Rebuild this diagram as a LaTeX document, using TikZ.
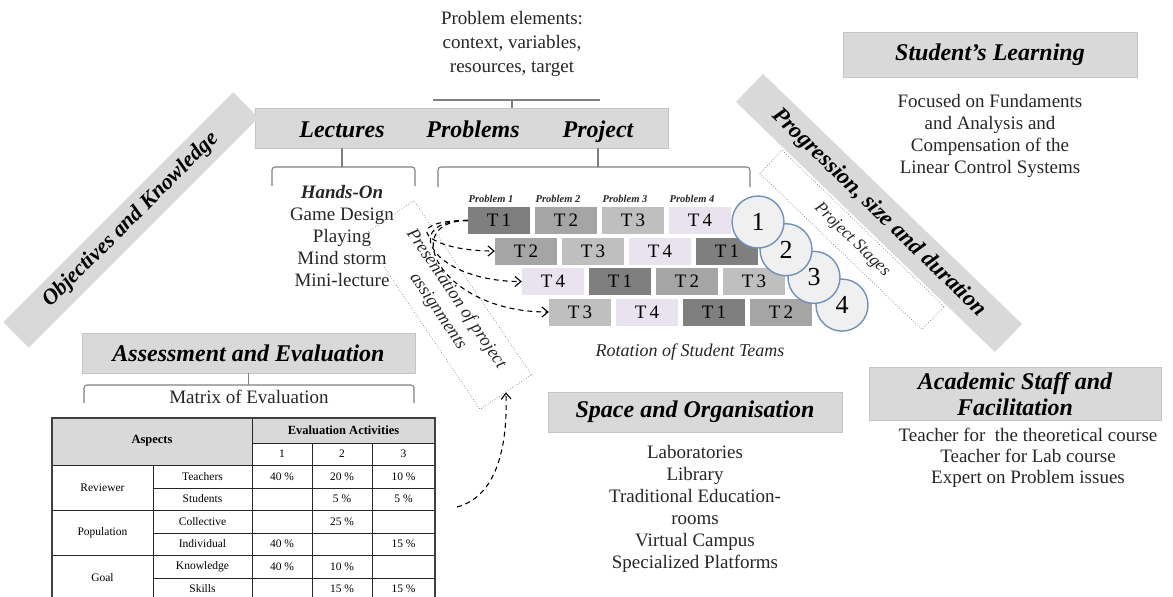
\documentclass[tikz,border=0pt]{standalone}
\usepackage{fontspec}
\setmainfont{Liberation Serif}
\usepackage{tikz}
\usetikzlibrary{positioning, arrows.meta}

\definecolor{boxgray}{HTML}{D9D9D9}
\definecolor{boxline}{HTML}{C4C4C4}
\definecolor{team1}{HTML}{7F7F7F}
\definecolor{team2}{HTML}{A5A5A5}
\definecolor{team3}{HTML}{BFBFBF}
\definecolor{team4}{HTML}{E8E3EE}
\definecolor{ringblue}{HTML}{7090BA}
\definecolor{ringfill}{HTML}{F0F0F0}
\definecolor{txt}{HTML}{262626}

\tikzset{
  headbox/.style={fill=boxgray, draw=boxline, line width=0.8pt, inner sep=0pt, align=center,
    font=\fontsize{24}{26}\selectfont\bfseries\itshape},
  headtxt/.style={anchor=base, font=\fontsize{24}{26}\selectfont\bfseries\itshape},
  body/.style={font=\fontsize{19}{22}\selectfont, text=txt, align=center},
  brk/.style={draw=gray, line width=1.1pt, rounded corners=3pt},
  tbox/.style={minimum width=62pt, minimum height=27pt, inner sep=0pt, font=\fontsize{19}{19}\selectfont},
  ring/.style={circle, draw=ringblue, fill=ringfill, line width=1.4pt, minimum size=52pt, inner sep=0pt,
    font=\fontsize{26}{26}\selectfont},
  dotbox/.style={draw=gray, dotted, line width=0.7pt, inner sep=0pt, align=center,
    font=\fontsize{18}{22}\selectfont\itshape, text=txt},
  dasharrow/.style={line width=1.1pt, dash pattern=on 5pt off 4pt, -{Straight Barb[length=6pt,width=10pt]}},
  plab/.style={font=\fontsize{10.5}{10.5}\selectfont\bfseries\itshape, text=txt},
  tabline/.style={line width=1pt, draw=black!85},
  tabtxt/.style={font=\fontsize{11.5}{11.5}\selectfont, text=black},
  tabhead/.style={font=\fontsize{12.5}{12.5}\selectfont\bfseries}
}

\begin{document}
\begin{tikzpicture}[x=1pt, y=-1pt]
\useasboundingbox (0,0) rectangle (1173,597);

% lectures / problems / project
\node[body, font=\fontsize{19}{24}\selectfont] (probel) at (512,44) {Problem elements:\\context, variables,\\resources, target};
\node[headbox, minimum width=413pt, minimum height=40pt] (lpp) at (461.5,128) {};
\node[headtxt] (lect) at (342,137) {Lectures};
\node[headtxt] (prob) at (473,137) {Problems};
\node[headtxt] (proj) at (598,137) {Project};
\coordinate (pel) at (433,100);
\coordinate (per) at (600,100);
\draw[brk] (pel) -- (per);
\draw[brk] (probel.south |- pel) -- (probel.south |- lpp.north);
\draw[brk] (lect.south |- lpp.south) -- ++(0,19);
\draw[brk] (272,186) -- (272,167) -- (415,167) -- (415,186);
\draw[brk] (proj.south |- lpp.south) -- ++(0,19);
\draw[brk] (438,187) -- (438,167) -- (750,167) -- (750,187);
\node[body] (hands) at (342,236) {\textbf{\textit{Hands-On}}\\Game Design\\Playing\\Mind storm\\Mini-lecture};

% rotated bands
\node[headbox, draw=none, rotate=45, minimum width=325pt, minimum height=36pt,
  font=\fontsize{22}{22}\selectfont\bfseries\itshape] (objk) at (131,220) {Objectives and Knowledge};
\node[headbox, draw=none, rotate=-44, minimum width=360pt, minimum height=39pt,
  font=\fontsize{23}{23}\selectfont\bfseries\itshape] (prog) at (879,213) {Progression, size and duration};
\node[dotbox, rotate=-44, minimum width=225pt, minimum height=32pt,
  font=\fontsize{17}{17}\selectfont\itshape] (stages) at (852,240) {Project Stages};
\node[dotbox, rotate=-56, minimum width=210pt, minimum height=62pt] (pres) at (447,305) {Presentation of project\\assignments};

% rotation of teams
\foreach \r/\ta/\tb/\tc/\td in {1/1/2/3/4, 2/2/3/4/1, 3/4/1/2/3, 4/3/4/1/2}
  \foreach \t [count=\k] in {\ta,\tb,\tc,\td}
    \node[tbox, fill=team\t] (t\r\k) at ({499+27*(\r-1)+67*(\k-1)}, {220.5+30.5*(\r-1)}) {T\,\t};
\foreach \k in {1,...,4}
  \node[plab, above=1pt of t1\k, xshift=-8pt] (plab\k) {Problem \k};
\foreach \r in {4,3,2,1}
  \node[ring] (ring\r) at ({758+28*(\r-1)}, {222+27.7*(\r-1)}) {\r};
\node[font=\fontsize{18}{18}\selectfont\itshape, text=txt] (rot) at (690,352) {Rotation of Student Teams};

\draw[dasharrow] (t11.west) .. controls +(-70,0) and +(-70,0) .. (t21.west);
\draw[dasharrow] (t11.west) .. controls +(-70,0) and +(-90,0) .. (t31.west);
\draw[dasharrow] (t11.west) .. controls +(-70,0) and +(-110,0) .. (t41.west);

% student's learning
\node[headbox, minimum width=294pt, minimum height=45pt] (slearn) at (990,54.5) {Student's Learning};
\node[body] (focus) at (990,135.5) {Focused on Fundaments\\and Analysis and\\Compensation of the\\Linear Control Systems};

% space and organisation
\node[headbox, minimum width=294pt, minimum height=40pt] (space) at (695,412) {Space and Organisation};
\node[body] (rooms) at (695,508.5) {Laboratories\\Library\\Traditional Education-\\rooms\\Virtual Campus\\Specialized Platforms};

% academic staff
\node[headbox, minimum width=292pt, minimum height=53pt] (staff) at (1015,394) {Academic Staff and\\Facilitation};
\node[body, font=\fontsize{19}{21}\selectfont] (teach) at (1028,458) {Teacher for\ \ the theoretical course\\Teacher for Lab course\\Expert on Problem issues};

% assessment
\node[headbox, minimum width=333pt, minimum height=40pt] (assess) at (248.5,353) {Assessment and Evaluation};
\draw[brk] (assess.south) -- ++(0,12);
\draw[brk] (84,403) -- (84,385) -- (414,385) -- (414,403);
\node[body] (matrix) at (249,397) {Matrix of Evaluation};

% evaluation table
\fill[boxgray] (52,418) rectangle (252,465);
\fill[boxgray] (252,418) rectangle (435,443);
\draw[tabline] (252,443) -- (435,443);
\foreach \y in {465,510,555} \draw[tabline] (52,\y) -- (435,\y);
\foreach \y in {488,533,578} \draw[tabline] (153,\y) -- (435,\y);
\draw[tabline] (153,465) -- (153,600);
\draw[tabline] (252,418) -- (252,600);
\foreach \x in {312,372} \draw[tabline] (\x,443) -- (\x,600);
\draw[line width=1.8pt, draw=black!75] (52,600) -- (52,418) -- (435,418) -- (435,600);
\node[tabhead] (aspects) at (152,441) {Aspects};
\node[tabhead] (evalact) at (343.5,430.5) {Evaluation Activities};
\foreach \x/\n in {282/1, 342/2, 403.5/3} \node[tabtxt] (col\n) at (\x,454) {\n};
\foreach \y/\g in {487.5/Reviewer, 532.5/Population, 577.5/Goal} \node[tabtxt] (grp\g) at (102.5,\y) {\g};
\foreach \y/\s in {476.5/Teachers, 499/Students, 521.5/Collective, 544/Individual, 566.5/Knowledge, 589/Skills}
  \node[tabtxt] (sub\s) at (202.5,\y) {\s};
\foreach \x/\y/\v [count=\i] in {282/476.5/40, 342/476.5/20, 403.5/476.5/10, 342/499/5, 403.5/499/5,
    342/521.5/25, 282/544/40, 403.5/544/15, 282/566.5/40, 342/566.5/10, 342/589/15, 403.5/589/15}
  \node[tabtxt] (val\i) at (\x,\y) {\v{} \%};

\coordinate (tabout) at (457,507);
\draw[dasharrow] (tabout) .. controls (495,497) and (508,450) .. (pres.east);
\end{tikzpicture}
\end{document}
